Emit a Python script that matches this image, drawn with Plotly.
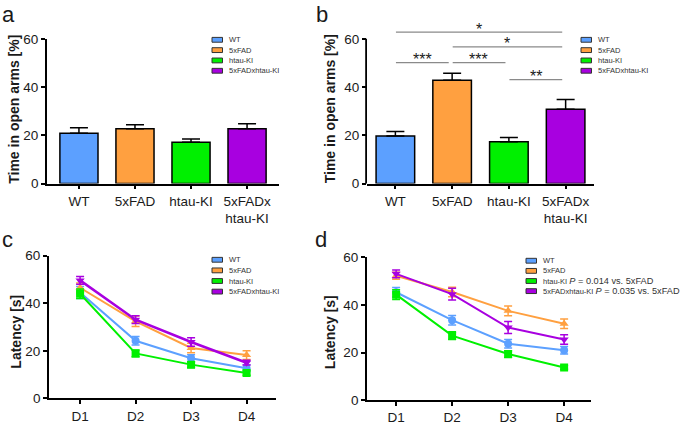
import plotly.graph_objects as go

W, H = 685, 426

groups = ["WT", "5xFAD", "htau-KI", "5xFADxhtau-KI"]
bar_ticks = ["WT", "5xFAD", "htau-KI", "5xFADx<br>htau-KI"]
colors = ["#5CA0FF", "#FFA040", "#00F000", "#A800E0"]
symbols = ["circle", "triangle-up", "square", "triangle-down"]

# panel a / b : time in open arms [%]
open_arms_a = [20.9, 22.7, 17.1, 22.7]
open_arms_a_sem = [2.2, 1.7, 1.4, 2.1]
open_arms_b = [19.7, 42.8, 17.3, 30.8]
open_arms_b_sem = [1.9, 2.9, 1.8, 4.0]

# significance brackets in b
sig_pairs = [(0, 3), (1, 3), (0, 1), (1, 2), (2, 3)]
sig_heights = [62.8, 56.7, 50.1, 50.1, 43.1]
sig_labels = ["*", "*", "***", "***", "**"]

# panel c / d : latency [s]
days = ["D1", "D2", "D3", "D4"]
latency_c = [
    [44.5, 24.2, 16.9, 12.7],
    [46.5, 32.4, 21.2, 18.2],
    [44.0, 18.9, 14.2, 10.7],
    [49.6, 33.1, 23.7, 15.0],
]
latency_c_sem = [
    [2.5, 1.8, 1.5, 1.4],
    [2.0, 2.2, 2.0, 1.8],
    [2.0, 1.4, 1.2, 1.0],
    [1.6, 1.6, 1.8, 1.0],
]
latency_d = [
    [45.3, 33.6, 23.7, 21.0],
    [52.2, 45.4, 37.5, 32.1],
    [44.3, 27.1, 19.4, 13.8],
    [53.0, 44.5, 30.5, 25.5],
]
latency_d_sem = [
    [2.0, 2.0, 1.8, 1.6],
    [1.5, 2.0, 2.0, 2.0],
    [2.0, 1.6, 1.4, 0.8],
    [1.6, 2.5, 2.5, 2.0],
]
d_notes = ["", "", "<i>P</i> = 0.014 vs. 5xFAD", "<i>P</i> = 0.035 vs. 5xFAD"]

FONT = "Liberation Sans, Arial, sans-serif"


def px(x):
    return x / W


def py(y):
    return 1 - y / H


fig = go.Figure()

# bars
for ax, vals, sem in [("", open_arms_a, open_arms_a_sem), ("2", open_arms_b, open_arms_b_sem)]:
    fig.add_trace(go.Bar(
        x=bar_ticks, y=vals, width=0.68,
        marker=dict(color=colors, line=dict(color="black", width=1.5)),
        error_y=dict(type="data", symmetric=False, array=sem, arrayminus=[0] * len(sem),
                     color="black", thickness=1.5, width=9),
        xaxis="x" + ax, yaxis="y" + ax, showlegend=False,
    ))

# lines
for ax, data, sem in [("3", latency_c, latency_c_sem), ("4", latency_d, latency_d_sem)]:
    for i, g in enumerate(groups):
        fig.add_trace(go.Scatter(
            x=days, y=data[i], name=g, mode="lines+markers",
            line=dict(color=colors[i], width=2.5 if (ax == "3" and i == 3) else 2),
            marker=dict(color=colors[i], symbol=symbols[i], size=8),
            error_y=dict(type="data", array=sem[i], color=colors[i], thickness=1.5, width=4),
            xaxis="x" + ax, yaxis="y" + ax, showlegend=False,
        ))

axis_style = dict(showline=True, linecolor="black", linewidth=1.8, ticks="outside",
                  ticklen=4, tickwidth=1.5, tickcolor="black", showgrid=False,
                  zeroline=False, fixedrange=True,
                  tickfont=dict(family=FONT, size=13.5, color="#1a1a1a"))

# pixel boxes: x0, x1, y_bottom, y_top, xrange, yrange
panels = {
    "": (47, 279, 183, 33, [-0.57, 3.57], [0, 60]),
    "2": (367, 594, 183, 18, [-0.5, 3.5], [0, 66]),
    "3": (49, 276, 405.7, 257.7, [-0.56, 3.53], [0, 60]),
    "4": (367, 591, 407.7, 259.3, [-0.52, 3.48], [0, 60]),
}
layout_axes = {}
for ax, (x0, x1, yb, yt, xr, yr) in panels.items():
    layout_axes["xaxis" + ax] = dict(axis_style, domain=[px(x0), px(x1)], range=xr,
                                     anchor="y" + ax)
    layout_axes["yaxis" + ax] = dict(axis_style, domain=[py(yb), py(yt)], range=yr,
                                     anchor="x" + ax, tickvals=[0, 20, 40, 60])
layout_axes["yaxis2"]["showline"] = False

fig.update_layout(
    width=W, height=H, margin=dict(l=0, r=0, t=0, b=0),
    plot_bgcolor="white", paper_bgcolor="white",
    font=dict(family=FONT, color="#1a1a1a"),
    showlegend=False,
    **layout_axes,
)

shapes = []
annotations = []

# y axis line of b only up to 60
shapes.append(dict(type="line", xref="paper", yref="paper",
                   x0=px(367) - 0.9 / W, x1=px(367) - 0.9 / W,
                   y0=py(183), y1=py(183 - 60 * 2.5),
                   line=dict(color="black", width=1.8)))

# significance brackets
for (i, j), h, lab in zip(sig_pairs, sig_heights, sig_labels):
    shapes.append(dict(type="line", xref="x2", yref="y2", x0=i + 0.01, x1=j - 0.06,
                       y0=h, y1=h, line=dict(color="#8a8a8a", width=1.2)))
    annotations.append(dict(x=(i + j) / 2 - 0.03, y=h, xref="x2", yref="y2", text=lab,
                            showarrow=False, yanchor="middle", yshift=3,
                            font=dict(size=16, color="#1a1a1a")))

# hand-drawn legends: square x, first row y, row step
legends = [(212, 34, 10.7, ["", "", "", ""]),
           (581, 34, 10.7, ["", "", "", ""]),
           (212, 262, 11.0, ["", "", "", ""]),
           (526, 263, 10.5, d_notes)]
for sx, y0, step, notes in legends:
    for k, g in enumerate(groups):
        yy = y0 + k * step
        shapes.append(dict(type="rect", xref="paper", yref="paper",
                           x0=px(sx), x1=px(sx + 10.5), y0=py(yy + 2.5), y1=py(yy - 2.5),
                           fillcolor=colors[k], line=dict(color="#333333", width=1)))
        txt = g
        if notes[k]:
            txt += " <span style='font-size:9.2px'>" + notes[k] + "</span>"
        annotations.append(dict(x=px(sx + 15), y=py(yy), xref="paper", yref="paper",
                                text=txt, showarrow=False, xanchor="left", yanchor="middle",
                                font=dict(size=7.5, color="#333333")))

# y titles
for x, y, t in [(14.5, 106, "Time in open arms [%]"), (330, 106, "Time in open arms [%]"),
                (16.5, 337, "Latency [s]"), (330, 337, "Latency [s]")]:
    annotations.append(dict(x=px(x), y=py(y), xref="paper", yref="paper", text="<b>" + t + "</b>",
                            textangle=-90, showarrow=False, xanchor="center", yanchor="middle",
                            font=dict(size=14, color="#1a1a1a")))

# panel letters
for x, y, t in [(0, 8, "a"), (314, 8, "b"), (0, 241, "c"), (313, 241, "d")]:
    annotations.append(dict(x=px(x), y=py(y), xref="paper", yref="paper", text=t,
                            showarrow=False, xanchor="left", yanchor="middle",
                            font=dict(size=22, color="#1a1a1a")))

fig.update_layout(shapes=shapes, annotations=annotations)
# the page body has a default 8px margin; drop it so the figure fills the window
fig.write_html("out.html", config={"displayModeBar": False},
               post_script="document.body.style.margin='0';")
